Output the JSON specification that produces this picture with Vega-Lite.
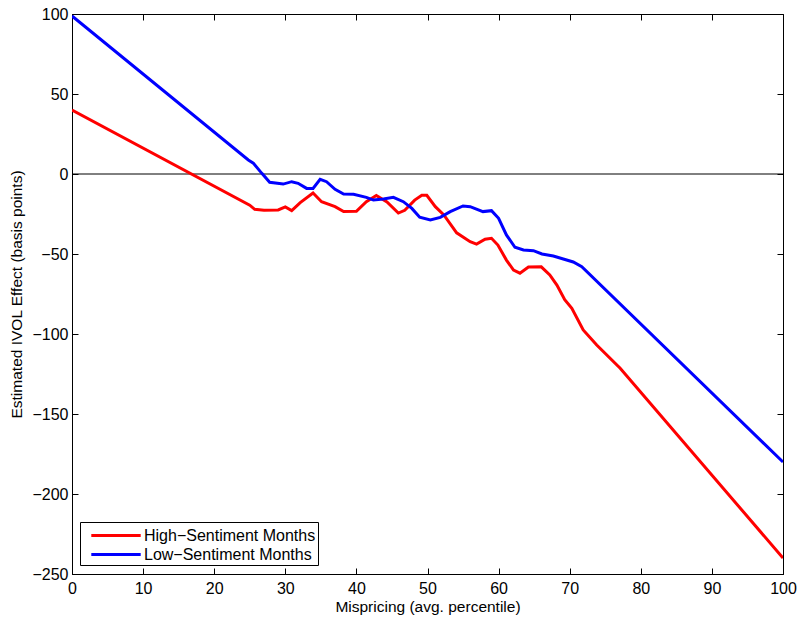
{
  "$schema": "https://vega.github.io/schema/vega-lite/v6.json",
  "width": 711,
  "height": 560,
  "autosize": "none",
  "padding": {"left": 72, "top": 14, "right": 16, "bottom": 45},
  "background": "white",
  "config": {
    "view": {"stroke": "black", "strokeWidth": 1},
    "font": "Liberation Sans",
    "axis": {
      "grid": false,
      "domainColor": "black",
      "tickColor": "black",
      "labelColor": "black",
      "titleColor": "black",
      "labelFont": "Liberation Sans",
      "titleFont": "Liberation Sans",
      "labelFontSize": 16,
      "titleFontSize": 15.5,
      "titleFontWeight": "normal",
      "tickSize": -6
    }
  },
  "datasets": {
    "lines": [
      {"series": "High−Sentiment Months", "x": 0, "y": 40},
      {"series": "High−Sentiment Months", "x": 25, "y": -19.5},
      {"series": "High−Sentiment Months", "x": 25.7, "y": -22.1},
      {"series": "High−Sentiment Months", "x": 27, "y": -22.6},
      {"series": "High−Sentiment Months", "x": 29, "y": -22.5},
      {"series": "High−Sentiment Months", "x": 30, "y": -20.6},
      {"series": "High−Sentiment Months", "x": 30.9, "y": -22.9},
      {"series": "High−Sentiment Months", "x": 32.1, "y": -17.9},
      {"series": "High−Sentiment Months", "x": 33.9, "y": -11.9},
      {"series": "High−Sentiment Months", "x": 35.1, "y": -17.3},
      {"series": "High−Sentiment Months", "x": 37, "y": -20.4},
      {"series": "High−Sentiment Months", "x": 38.2, "y": -23.5},
      {"series": "High−Sentiment Months", "x": 40, "y": -23.3},
      {"series": "High−Sentiment Months", "x": 41.4, "y": -17.3},
      {"series": "High−Sentiment Months", "x": 42.8, "y": -13.4},
      {"series": "High−Sentiment Months", "x": 44.3, "y": -17.5},
      {"series": "High−Sentiment Months", "x": 45.9, "y": -24.4},
      {"series": "High−Sentiment Months", "x": 46.8, "y": -22.7},
      {"series": "High−Sentiment Months", "x": 48.2, "y": -16.3},
      {"series": "High−Sentiment Months", "x": 49.2, "y": -13.3},
      {"series": "High−Sentiment Months", "x": 49.9, "y": -13.3},
      {"series": "High−Sentiment Months", "x": 51.1, "y": -20.4},
      {"series": "High−Sentiment Months", "x": 52.3, "y": -25.6},
      {"series": "High−Sentiment Months", "x": 54.1, "y": -36.8},
      {"series": "High−Sentiment Months", "x": 56, "y": -42.3},
      {"series": "High−Sentiment Months", "x": 56.9, "y": -43.8},
      {"series": "High−Sentiment Months", "x": 58.1, "y": -40.8},
      {"series": "High−Sentiment Months", "x": 59, "y": -40.2},
      {"series": "High−Sentiment Months", "x": 59.9, "y": -44.4},
      {"series": "High−Sentiment Months", "x": 61.1, "y": -53.8},
      {"series": "High−Sentiment Months", "x": 62.1, "y": -60},
      {"series": "High−Sentiment Months", "x": 63, "y": -62},
      {"series": "High−Sentiment Months", "x": 64.2, "y": -58.1},
      {"series": "High−Sentiment Months", "x": 66, "y": -58},
      {"series": "High−Sentiment Months", "x": 67.2, "y": -63.1},
      {"series": "High−Sentiment Months", "x": 68.2, "y": -69.4},
      {"series": "High−Sentiment Months", "x": 69.3, "y": -78.5},
      {"series": "High−Sentiment Months", "x": 70.3, "y": -83.9},
      {"series": "High−Sentiment Months", "x": 71.9, "y": -97.5},
      {"series": "High−Sentiment Months", "x": 73.8, "y": -106.9},
      {"series": "High−Sentiment Months", "x": 77.1, "y": -121.4},
      {"series": "High−Sentiment Months", "x": 100, "y": -240},
      {"series": "Low−Sentiment Months", "x": 0, "y": 98.75},
      {"series": "Low−Sentiment Months", "x": 24.8, "y": 8.75},
      {"series": "Low−Sentiment Months", "x": 25.5, "y": 6.8},
      {"series": "Low−Sentiment Months", "x": 26.7, "y": 0.4},
      {"series": "Low−Sentiment Months", "x": 27.8, "y": -5.2},
      {"series": "Low−Sentiment Months", "x": 29.7, "y": -6.3},
      {"series": "Low−Sentiment Months", "x": 30.9, "y": -4.8},
      {"series": "Low−Sentiment Months", "x": 31.8, "y": -5.8},
      {"series": "Low−Sentiment Months", "x": 33, "y": -9},
      {"series": "Low−Sentiment Months", "x": 33.9, "y": -9},
      {"series": "Low−Sentiment Months", "x": 34.9, "y": -3.3},
      {"series": "Low−Sentiment Months", "x": 35.8, "y": -4.8},
      {"series": "Low−Sentiment Months", "x": 37, "y": -9.6},
      {"series": "Low−Sentiment Months", "x": 38.2, "y": -12.5},
      {"series": "Low−Sentiment Months", "x": 39.6, "y": -12.7},
      {"series": "Low−Sentiment Months", "x": 41.4, "y": -14.6},
      {"series": "Low−Sentiment Months", "x": 42.4, "y": -16.3},
      {"series": "Low−Sentiment Months", "x": 43.8, "y": -15.6},
      {"series": "Low−Sentiment Months", "x": 45.2, "y": -14.6},
      {"series": "Low−Sentiment Months", "x": 46.6, "y": -17.3},
      {"series": "Low−Sentiment Months", "x": 47.8, "y": -21.5},
      {"series": "Low−Sentiment Months", "x": 48.9, "y": -27},
      {"series": "Low−Sentiment Months", "x": 50.4, "y": -28.7},
      {"series": "Low−Sentiment Months", "x": 51.8, "y": -27.1},
      {"series": "Low−Sentiment Months", "x": 53.2, "y": -23.5},
      {"series": "Low−Sentiment Months", "x": 55, "y": -20},
      {"series": "Low−Sentiment Months", "x": 56, "y": -20.4},
      {"series": "Low−Sentiment Months", "x": 57.8, "y": -23.5},
      {"series": "Low−Sentiment Months", "x": 59, "y": -22.9},
      {"series": "Low−Sentiment Months", "x": 60, "y": -27.7},
      {"series": "Low−Sentiment Months", "x": 61.1, "y": -38.1},
      {"series": "Low−Sentiment Months", "x": 62.3, "y": -45.8},
      {"series": "Low−Sentiment Months", "x": 63.5, "y": -47.5},
      {"series": "Low−Sentiment Months", "x": 64.9, "y": -47.9},
      {"series": "Low−Sentiment Months", "x": 66.1, "y": -50},
      {"series": "Low−Sentiment Months", "x": 67.7, "y": -51.3},
      {"series": "Low−Sentiment Months", "x": 69.1, "y": -53.1},
      {"series": "Low−Sentiment Months", "x": 70.5, "y": -55},
      {"series": "Low−Sentiment Months", "x": 71.7, "y": -57.9},
      {"series": "Low−Sentiment Months", "x": 100, "y": -180}
    ],
    "zero": [{"y": 0}]
  },
  "layer": [
    {
      "data": {"name": "zero"},
      "mark": {"type": "rule", "color": "black", "strokeWidth": 1},
      "encoding": {
        "y": {"field": "y", "type": "quantitative", "scale": {"domain": [-250, 100], "nice": false, "zero": false},
          "axis": {"orient": "right", "labels": false, "title": null, "values": [-250, -200, -150, -100, -50, 0, 50, 100], "domain": false}}
      }
    },
    {
      "data": {"name": "lines"},
      "mark": {"type": "point", "opacity": 0},
      "encoding": {
        "x": {"field": "x", "type": "quantitative", "scale": {"domain": [0, 100], "nice": false, "zero": false},
          "axis": {"orient": "top", "labels": false, "title": null, "values": [0, 10, 20, 30, 40, 50, 60, 70, 80, 90, 100], "domain": false}}
      }
    },
    {
      "data": {"name": "lines"},
      "mark": {"type": "line", "strokeWidth": 3, "clip": true},
      "encoding": {
        "x": {"field": "x", "type": "quantitative", "scale": {"domain": [0, 100], "nice": false, "zero": false},
          "axis": {"title": "Mispricing (avg. percentile)", "values": [0, 10, 20, 30, 40, 50, 60, 70, 80, 90, 100], "labelPadding": 12, "titlePadding": 3, "labelFlush": false, "labelOverlap": false}},
        "y": {"field": "y", "type": "quantitative", "scale": {"domain": [-250, 100], "nice": false, "zero": false},
          "axis": {"title": "Estimated IVOL Effect (basis points)", "values": [-250, -200, -150, -100, -50, 0, 50, 100], "labelPadding": 10, "titlePadding": 7, "labelFlush": false, "labelOverlap": false}},
        "color": {"field": "series", "type": "nominal",
          "scale": {"domain": ["High−Sentiment Months", "Low−Sentiment Months"], "range": ["#ff0000", "#0000ff"]},
          "legend": {"title": null, "orient": "none", "legendX": 8, "legendY": 508, "symbolType": "M-2.6,0H2.6", "symbolSize": 361, "symbolStrokeWidth": 3, "symbolOffset": 22.5, "labelFontSize": 16, "labelFont": "Liberation Sans", "labelColor": "black", "strokeColor": "black", "fillColor": "white", "padding": 2.5, "rowPadding": 0, "labelOffset": 17, "labelLimit": 300}}
      }
    }
  ],
  "resolve": {"axis": {"y": "independent", "x": "independent"}}
}
